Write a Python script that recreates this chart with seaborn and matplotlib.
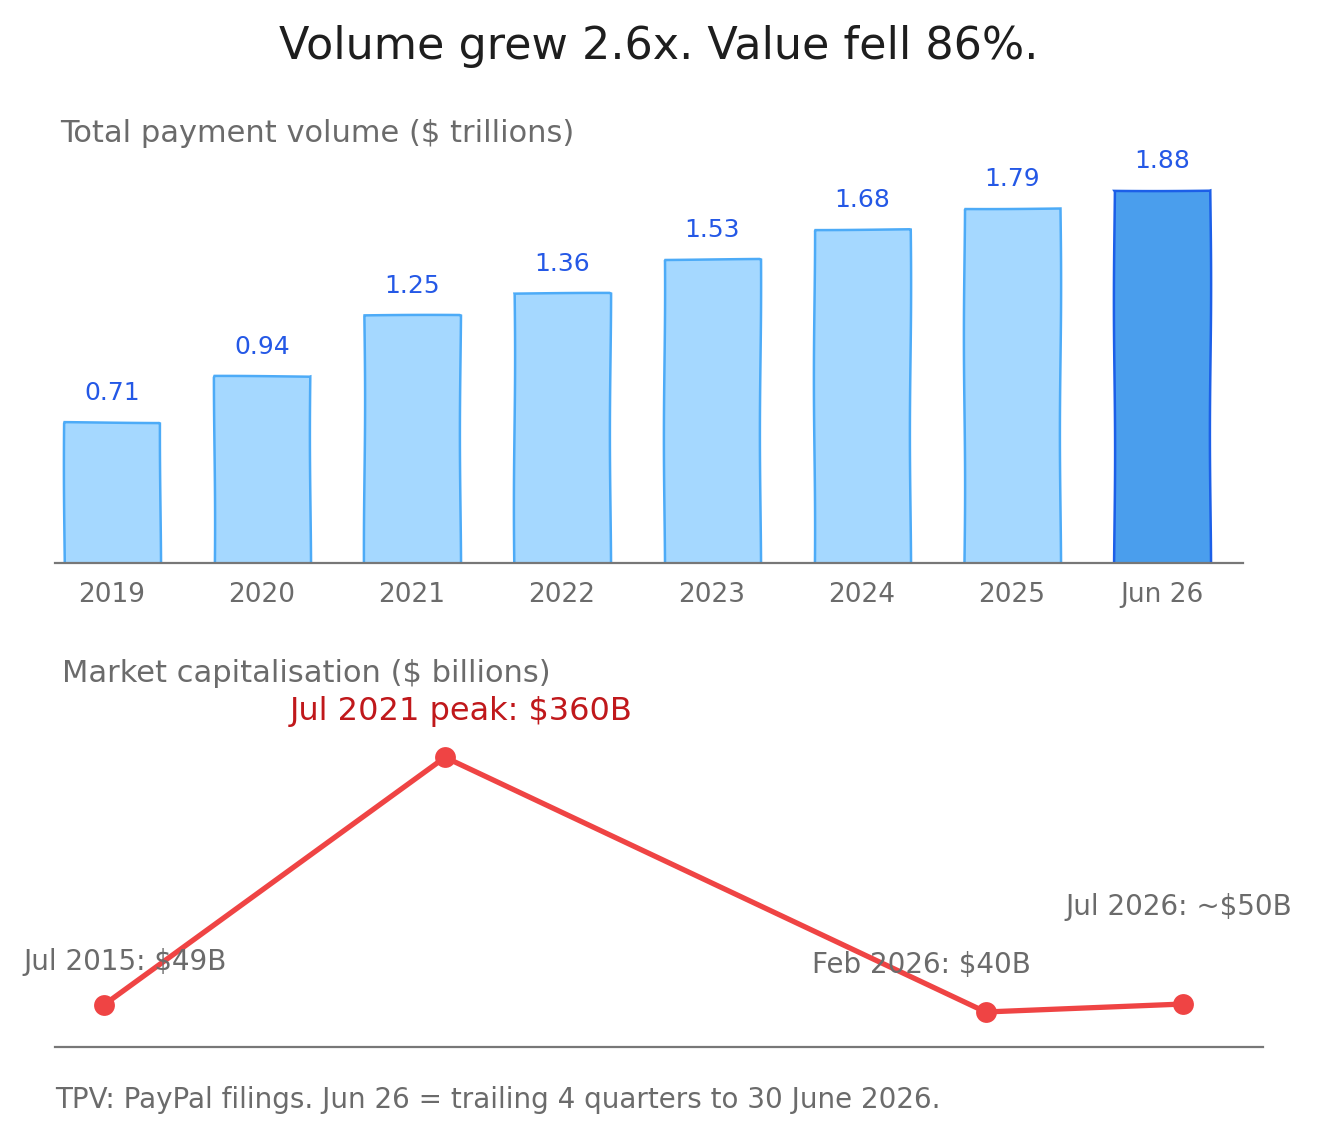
import matplotlib
matplotlib.use('Agg')
import matplotlib.pyplot as plt
import numpy as np
import pandas as pd
import seaborn as sns

# TPV bars
periods = ['2019', '2020', '2021', '2022', '2023', '2024', '2025', 'Jun 26']
tpv = [0.71, 0.94, 1.25, 1.36, 1.53, 1.68, 1.79, 1.88]

# market cap line (position along the timeline, 0..1)
cap_labels = ['Jul 2015: $49B', 'Jul 2021 peak: $360B', 'Feb 2026: $40B', 'Jul 2026: ~$50B']
cap_pos = [0.0, 0.316, 0.817, 1.0]
cap_values = [49, 360, 40, 50]

W, H = 1318, 1139
GRAY = '#6b6b6b'
BLUE_TXT = '#2458e6'
RED = '#ef4444'

sns.set_theme(style='white')
plt.rcParams['font.family'] = ['DejaVu Sans']

fig = plt.figure(figsize=(W / 100, H / 100), dpi=100)
fig.patch.set_facecolor('white')


def px_axes(left, top, right, bottom):
    return fig.add_axes([left / W, 1 - bottom / H, (right - left) / W, (bottom - top) / H])


fig.text(659 / W, 1 - 47 / H, 'Volume grew 2.6x. Value fell 86%.', ha='center', va='center',
         fontsize=32, color='#1e1e1e')

# ---- top: total payment volume ----
ax1 = px_axes(55, 150, 1243, 563)
df_tpv = pd.DataFrame({'period': periods, 'tpv': tpv})
fills = ['#a5d8ff'] * (len(periods) - 1) + ['#4a9eed']
edges = ['#4dabf7'] * (len(periods) - 1) + ['#1c5fe8']
sns.barplot(data=df_tpv, x='period', y='tpv', hue='period', palette=fills, legend=False,
            width=0.64, saturation=1, ax=ax1)
for bar, ec in zip(ax1.patches, edges):
    bar.set_edgecolor(ec)
    bar.set_linewidth(1.8)
    bar.set_sketch_params(0.6, 300, 1)
for i, v in enumerate(tpv):
    ax1.annotate(f'{v:.2f}', (i, v), xytext=(0, 29), textcoords='offset pixels',
                 ha='center', va='center', fontsize=18, color=BLUE_TXT)
ax1.set_xlim(-0.38, 7.54)
ax1.set_ylim(0, (563 - 150) / 198.6)
ax1.set_xlabel('')
ax1.set_ylabel('')
ax1.set_yticks([])
ax1.tick_params(axis='x', length=0, pad=14, labelsize=19, labelcolor=GRAY)
for s in ['top', 'left', 'right']:
    ax1.spines[s].set_visible(False)
ax1.spines['bottom'].set_color('#777777')
ax1.spines['bottom'].set_linewidth(1.6)
ax1.set_facecolor('none')
fig.text(60 / W, 1 - 133 / H, 'Total payment volume ($ trillions)', ha='left', va='center',
         fontsize=22, color=GRAY)

# ---- bottom: market capitalisation ----
ax2 = px_axes(55, 700, 1263, 1047)
df_cap = pd.DataFrame({'pos': cap_pos, 'cap': cap_values})
sns.lineplot(data=df_cap, x='pos', y='cap', color=RED, linewidth=3.8, marker='o',
             markersize=15, markeredgewidth=0, ax=ax2)
offsets = [(21, 43), (16, 46), (-64, 47), (-4, 97)]
for (dx, dy), lab, x, y in zip(offsets, cap_labels, cap_pos, cap_values):
    is_peak = 'peak' in lab
    ax2.annotate(lab, (x, y), xytext=(dx, dy), textcoords='offset pixels', ha='center',
                 va='center', fontsize=23 if is_peak else 20,
                 color='#c0181b' if is_peak else GRAY)
ax2.set_xlim(-0.0454, 1.074)
ax2.set_ylim(-4, 432)
ax2.set_xlabel('')
ax2.set_ylabel('')
ax2.set_xticks([])
ax2.set_yticks([])
for s in ['top', 'left', 'right']:
    ax2.spines[s].set_visible(False)
ax2.spines['bottom'].set_color('#777777')
ax2.spines['bottom'].set_linewidth(1.6)
ax2.set_facecolor('none')
fig.text(62 / W, 1 - 674 / H, 'Market capitalisation ($ billions)', ha='left', va='center',
         fontsize=22, color=GRAY)

fig.text(55 / W, 1 - 1100 / H, 'TPV: PayPal filings. Jun 26 = trailing 4 quarters to 30 June 2026.',
         ha='left', va='center', fontsize=20, color=GRAY)

fig.savefig('out.png', dpi=100, facecolor='white')
